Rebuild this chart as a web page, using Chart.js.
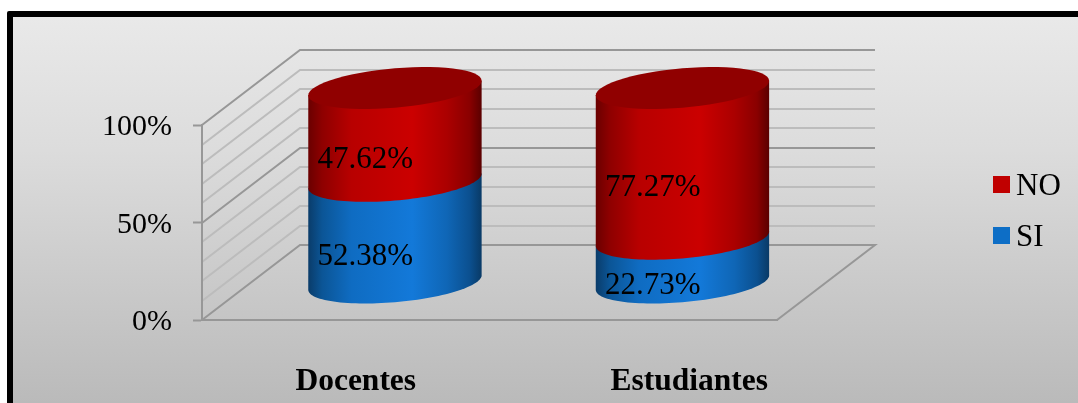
<!DOCTYPE html>
<html>
<head>
<meta charset="utf-8">
<title>Docentes / Estudiantes</title>
<script src="https://cdn.jsdelivr.net/npm/chart.js@4"></script>
<style>
  html, body { margin: 0; padding: 0; background: #fff; }
  canvas { display: block; }
</style>
</head>
<body>
<canvas id="mychart" width="1078" height="403"></canvas>
<script>
/* [ Data ] */
const categories = ['Docentes', 'Estudiantes'];
const valuesSI = [52.38, 22.73];
const valuesNO = [47.62, 77.27];
const majorTicks = [0, 50, 100];

/* [ 3D look ] */
const SERIF = '"Liberation Serif", "Times New Roman", serif';
const depthX = 98, depthY = -75;       // front wall -> back wall
const barX = 49.2, barY = -37;         // front wall -> middle of the floor
const capB = 19.7, capK = -7.3;        // ellipse height and tilt
const labelShift = [10, 56];           // category labels are not centred under the ticks

const bodyStops = {
    red: ['#6a0000', '#8e0000', '#b80000', '#cb0000', '#ab0000', '#8a0000', '#5a0000'],
    blue: ['#0a3c6a', '#0b5596', '#0f6cc2', '#1379d9', '#0f66b6', '#0b5090', '#093a66']
};
const stopAt = [0, 0.08, 0.25, 0.6, 0.8, 0.93, 1];

function ellipsePath(ctx, cx, cy, a, start, end) {
    // sheared ellipse, so the ends of the disc stay on the sides of the cylinder
    const n = 60;
    for (let i = 0; i <= n; i++) {
        const t = start + (end - start) * i / n;
        const x = cx + a * Math.cos(t);
        const y = cy + capB * Math.sin(t) + capK * Math.cos(t);
        ctx.lineTo(x, y);
    }
}

function drawCylinder(ctx, el, stops, cap) {
    const cx = el.x + barX, a = el.width / 2;
    const top = el.y + barY, bottom = el.base + barY;
    const grad = ctx.createLinearGradient(cx - a, 0, cx + a, 0);
    stops.forEach((c, i) => grad.addColorStop(stopAt[i], c));
    ctx.beginPath();
    ellipsePath(ctx, cx, bottom, a, 0, Math.PI);
    ctx.lineTo(cx - a, top - capK);
    ctx.lineTo(cx + a, top + capK);
    ctx.closePath();
    ctx.fillStyle = grad;
    ctx.fill();
    if (cap) {
        ctx.beginPath();
        ellipsePath(ctx, cx, top, a, 0, Math.PI * 2);
        ctx.closePath();
        ctx.fillStyle = cap;
        ctx.fill();
    }
}

const scene = {
    id: 'scene',
    afterLayout(chart) {
        chart.scales.x.getLabelItems().forEach((item, i) => {
            item.options.translation[0] += labelShift[i];
        });
        chart.scales.y.getLabelItems().forEach(item => {
            item.options.translation[1] += 2.5;
        });
    },
    beforeDraw(chart) {
        const ctx = chart.ctx, w = chart.width, h = chart.height;
        ctx.save();
        // frame and background
        ctx.fillStyle = '#fff';
        ctx.fillRect(0, 0, w, h);
        ctx.fillStyle = '#000';
        ctx.beginPath();
        ctx.roundRect(7, 11, w + 20, h + 20, 2);
        ctx.fill();
        const bg = ctx.createLinearGradient(0, 17, 0, h);
        bg.addColorStop(0, '#e9e9e9');
        bg.addColorStop(0.345, '#dcdcdc');
        bg.addColorStop(1, '#bababa');
        ctx.fillStyle = bg;
        ctx.fillRect(13, 17, w, h);

        // walls and floor
        const y = chart.scales.y, a = chart.chartArea;
        ctx.lineWidth = 2;
        y.ticks.forEach(tick => {
            const py = Math.round(y.getPixelForValue(tick.value));
            ctx.strokeStyle = majorTicks.includes(tick.value) ? '#979797' : '#bcbcbc';
            ctx.beginPath();
            ctx.moveTo(a.left, py);
            ctx.lineTo(a.left + depthX, py + depthY);
            ctx.lineTo(a.right + depthX, py + depthY);
            if (tick.value === 0) {
                ctx.lineTo(a.right, py);
            }
            ctx.stroke();
        });
        ctx.restore();
    },
    beforeDatasetsDraw(chart) {
        const ctx = chart.ctx;
        ctx.save();
        chart.getDatasetMeta(0).data.forEach(el => drawCylinder(ctx, el, bodyStops.blue));
        chart.getDatasetMeta(1).data.forEach(el => drawCylinder(ctx, el, bodyStops.red, '#900000'));

        // value labels
        ctx.fillStyle = '#000';
        ctx.font = '31px ' + SERIF;
        ctx.textAlign = 'center';
        ctx.textBaseline = 'middle';
        chart.data.datasets.forEach((ds, d) => {
            chart.getDatasetMeta(d).data.forEach((el, i) => {
                ctx.fillText(ds.data[i].toFixed(2) + '%', el.x + 19.6, (el.y + el.base) / 2 - 12);
            });
        });

        // legend, NO on top
        ctx.textAlign = 'left';
        ctx.font = '31px ' + SERIF;
        chart.data.datasets.slice().reverse().forEach((ds, i) => {
            const ly = 176 + i * 51;
            ctx.fillStyle = ds.backgroundColor;
            ctx.fillRect(993, ly, 17, 17);
            ctx.fillStyle = '#000';
            ctx.fillText(ds.label, 1016, ly + 10.5);
        });
        ctx.restore();
        return false;
    }
};

/* [ Chart ] */
const ctx1 = document.getElementById('mychart').getContext('2d');
let mychart = new Chart(ctx1, {
    type: 'bar',
    data: {
        labels: categories,
        datasets: [
            { label: 'SI', data: valuesSI, backgroundColor: '#0d6ec6' },
            { label: 'NO', data: valuesNO, backgroundColor: '#c00000' }
        ]
    },
    options: {
        responsive: false,
        animation: false,
        devicePixelRatio: 1,
        layout: { padding: { left: 0, right: 301, top: 125, bottom: 0 } },
        categoryPercentage: 1,
        barPercentage: 0.603,
        plugins: { legend: { display: false }, tooltip: { enabled: false } },
        scales: {
            x: {
                stacked: true,
                afterFit: s => { s.height = 83; },
                grid: { display: false },
                border: { display: true, color: '#979797', width: 2 },
                ticks: {
                    padding: 35,
                    color: '#000',
                    maxRotation: 0,
                    font: { family: SERIF, size: 31.5, weight: 'bold' }
                }
            },
            y: {
                stacked: true,
                min: 0,
                max: 100,
                afterFit: s => { s.width = 202; },
                border: { display: true, color: '#979797', width: 2 },
                grid: {
                    drawOnChartArea: false,
                    tickLength: 9,
                    tickWidth: 2,
                    tickColor: c => majorTicks.includes(c.tick.value) ? '#979797' : 'rgba(0,0,0,0)'
                },
                ticks: {
                    stepSize: 10,
                    autoSkip: false,
                    padding: 21,
                    color: '#000',
                    font: { family: SERIF, size: 30 },
                    callback: v => majorTicks.includes(v) ? v + '%' : ''
                }
            }
        }
    },
    plugins: [scene]
});
</script>
</body>
</html>
